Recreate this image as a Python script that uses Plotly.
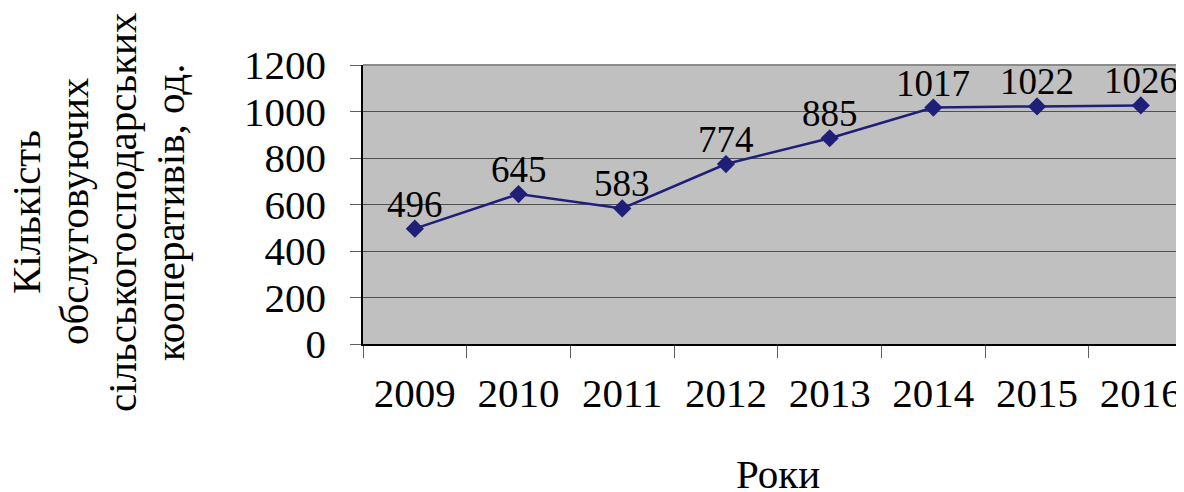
import plotly.graph_objects as go

years = ["2009", "2010", "2011", "2012", "2013", "2014", "2015", "2016"]
counts = [496, 645, 583, 774, 885, 1017, 1022, 1026]
y_ticks = [0, 200, 400, 600, 800, 1000, 1200]
y_title_lines = ["Кількість", "обслуговуючих", "сільськогосподарських", "кооперативів, од."]
x_title = "Роки"

FONT = "Liberation Serif, Times New Roman, serif"
LINE_COLOR = "#1f1f7a"

# the page body has an 8px margin, so the figure is sized to fit inside the window
fig = go.Figure(
    go.Scatter(
        x=years,
        y=counts,
        mode="lines+markers",
        line={"color": LINE_COLOR, "width": 2.5},
        marker={"symbol": "diamond", "size": 14, "color": LINE_COLOR},
        hoverinfo="x+y",
    )
)

fig.update_layout(
    width=1176,
    height=484,
    margin={"l": 355, "r": 0, "t": 57, "b": 148},
    paper_bgcolor="white",
    plot_bgcolor="#c0c0c0",
    font={"family": FONT, "size": 41, "color": "black"},
    showlegend=False,
)

fig.update_xaxes(
    type="category",
    range=[-0.5, 7.417],
    tickson="boundaries",
    ticks="outside",
    ticklen=12,
    tickcolor="#606060",
    showgrid=False,
    showline=True,
    linecolor="black",
    linewidth=1.5,
    ticklabelstandoff=12,
    tickfont={"size": 41},
)

fig.update_yaxes(
    range=[0, 1200],
    tickvals=y_ticks,
    ticks="outside",
    ticklen=11,
    tickcolor="#606060",
    showgrid=True,
    gridcolor="#505050",
    gridwidth=1,
    showline=True,
    linecolor="black",
    linewidth=1.5,
    zeroline=False,
    ticklabelstandoff=16,
    tickfont={"size": 41},
)

# light grey top edge of the plot area
fig.add_shape(
    type="line",
    xref="paper",
    yref="paper",
    x0=0,
    x1=1,
    y0=1,
    y1=1,
    line={"color": "#8c8c8c", "width": 2},
    layer="above",
)

# value labels just above each point (category axis -> use the category index)
for i, value in enumerate(counts):
    fig.add_annotation(
        x=i,
        y=value,
        text=str(value),
        xanchor="center",
        yanchor="bottom",
        yshift=2,
        showarrow=False,
        font={"family": FONT, "size": 37},
    )

# y-axis title, one rotated line per column
for i, line in enumerate(y_title_lines):
    fig.add_annotation(
        text=line,
        xref="paper",
        yref="paper",
        x=0,
        y=0.473,
        xanchor="center",
        yanchor="middle",
        xshift=26 + 48 * i - 363,
        textangle=-90,
        showarrow=False,
        font={"family": FONT, "size": 41},
    )

fig.add_annotation(
    text=x_title,
    xref="paper",
    yref="paper",
    x=0.5055,
    y=(344 - 474) / 279,
    xanchor="center",
    yanchor="middle",
    showarrow=False,
    font={"family": FONT, "size": 41},
)

fig.write_html("out.html")
